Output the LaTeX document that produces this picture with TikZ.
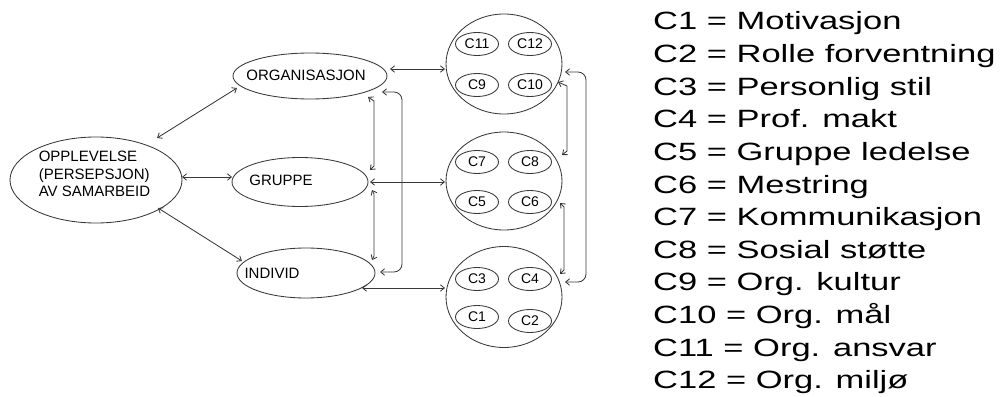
\documentclass[tikz,border=0pt]{standalone}
\usepackage{fontspec}
\setmainfont{Liberation Sans}
\newfontfamily\legendfont[FakeStretch=1.38]{Liberation Sans}
\usetikzlibrary{shapes.geometric,arrows.meta,calc}

\begin{document}
\begin{tikzpicture}[x=1pt,y=-1pt,
  line/.style={draw=black!78, line width=0.85pt},
  conn/.style={line, {Straight Barb[length=4pt,width=6.5pt]}-{Straight Barb[length=4pt,width=6.5pt]}},
  oval/.style={ellipse, line, inner sep=0pt},
  lbl/.style={font=\fontsize{15}{17.5}\selectfont, inner sep=0pt},
  cnode/.style={ellipse, line, minimum width=43pt, minimum height=23pt, inner sep=0pt,
                font=\fontsize{14}{14}\selectfont},
  legend/.style={anchor=base west, inner sep=0pt, font=\legendfont\fontsize{25}{30}\selectfont}
]
\useasboundingbox (0,0) rectangle (1003,396);

% perspective levels
\node[oval, minimum width=172pt, minimum height=86pt] (oppl) at (96,180) {};
\node[lbl, align=left] (opplT) at (94.5,174) {OPPLEVELSE\\(PERSEPSJON)\\AV SAMARBEID};
\node[oval, minimum width=154pt, minimum height=46pt] (org) at (310,76) {};
\node[lbl] (orgT) at (306,75.5) {ORGANISASJON};
\node[oval, minimum width=136pt, minimum height=49pt] (grp) at (300,182) {};
\node[lbl] (grpT) at (281,180) {GRUPPE};
\node[oval, minimum width=138pt, minimum height=50pt] (ind) at (306,273) {};
\node[lbl] (indT) at (272,273.5) {INDIVID};

% factor groups
\node[oval, minimum width=116pt, minimum height=100pt] (cA) at (504,64) {};
\node[oval, minimum width=116pt, minimum height=98pt] (cB) at (504,181) {};
\node[oval, minimum width=116pt, minimum height=101pt] (cC) at (504,297) {};

\node[cnode] (c11) at (477,44) {C11};
\node[cnode] (c12) at (530,44) {C12};
\node[cnode] (c9)  at (477,85) {C9};
\node[cnode] (c10) at (530,85) {C10};
\node[cnode] (c7)  at (477,162) {C7};
\node[cnode] (c8)  at (530,162) {C8};
\node[cnode] (c5)  at (477,202) {C5};
\node[cnode] (c6)  at (530,202) {C6};
\node[cnode] (c3)  at (477,279) {C3};
\node[cnode] (c4)  at (530,279) {C4};
\node[cnode] (c1)  at (477,317) {C1};
\node[cnode] (c2)  at (530,321) {C2};

% connectors from the central ellipse
\draw[conn] ([shift={(61,-42)}]oppl.center) -- ([shift={(-73,12)}]org.center);
\draw[conn] ([shift={(86,-3)}]oppl.center) -- ([shift={(-68,-5)}]grp.center);
\draw[conn] ([shift={(62,28)}]oppl.center) -- ([shift={(-64,-12)}]ind.center);

% levels to factor groups
\draw[conn] ([shift={(80,-7)}]org.center) -- ([shift={(-59,5)}]cA.center);
\draw[conn] ([shift={(70,0)}]grp.center) -- ([shift={(-59,1)}]cB.center);
\draw[conn] ([shift={(56,15)}]ind.center) -- ([shift={(-59,-9)}]cC.center);

% links between levels
\draw[conn] ([shift={(58,21)}]org.center) -- ++(6,4) -- ([shift={(74,-16)}]grp.center) -- ([shift={(70,-12)}]grp.center);
\draw[conn] ([shift={(72,8)}]grp.center) -- ++(2,4) -- ([shift={(68,-17)}]ind.center) -- ([shift={(66,-13)}]ind.center);
\draw[conn, rounded corners=8pt] ([shift={(72,16)}]org.center) -- ++(20,0) |- ([shift={(74,-1)}]ind.center);

% links between factor groups
\draw[conn] ([shift={(54,18)}]cA.center) -- ++(9,4) -- ([shift={(63,-30)}]cB.center) -- ([shift={(58,-26)}]cB.center);
\draw[conn] ([shift={(56,22)}]cB.center) -- ++(4,4) -- ([shift={(60,-27)}]cC.center) -- ([shift={(56,-23)}]cC.center);
\draw[conn, rounded corners=8pt] ([shift={(61,8)}]cA.center) -- ++(21,0) |- ([shift={(61,-15)}]cC.center);

% key
\node[legend] (l1)  at (653,30.0)  {C1 = Motivasjon};
\node[legend] (l2)  at (653,62.6)  {C2 = Rolle forventning};
\node[legend] (l3)  at (653,95.2)  {C3 = Personlig stil};
\node[legend] (l4)  at (653,127.8) {C4 = Prof. makt};
\node[legend] (l5)  at (653,160.4) {C5 = Gruppe ledelse};
\node[legend] (l6)  at (653,193.0) {C6 = Mestring};
\node[legend] (l7)  at (653,225.6) {C7 = Kommunikasjon};
\node[legend] (l8)  at (653,258.2) {C8 = Sosial støtte};
\node[legend] (l9)  at (653,290.8) {C9 = Org. kultur};
\node[legend] (l10) at (653,323.4) {C10 = Org. mål};
\node[legend] (l11) at (653,356.0) {C11 = Org. ansvar};
\node[legend] (l12) at (653,388.6) {C12 = Org. miljø};
\end{tikzpicture}
\end{document}
